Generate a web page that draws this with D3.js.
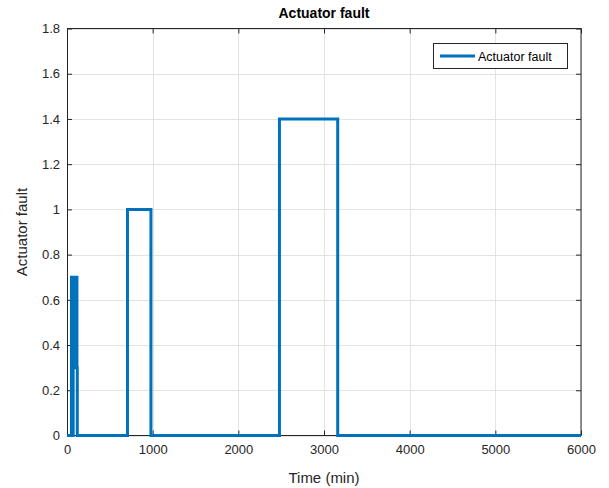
<!DOCTYPE html>
<html><head><meta charset="utf-8">
<script src="https://cdn.jsdelivr.net/npm/d3@7/dist/d3.min.js"></script>
<style>body{margin:0;background:#fff;} text{font-family:"Liberation Sans",Arial,Helvetica,sans-serif;}</style>
</head><body>
<svg id="c" width="609" height="488"></svg>
<script>
const times  = [0, 52, 52, 60, 60, 72, 72, 90, 90, 96, 96, 104, 104, 110, 110, 116, 116, 120, 120, 706, 706, 980, 980, 2480, 2480, 3160, 3160, 6000];
const values = [0, 0, 0.7, 0.7, 0, 0, 0.7, 0.7, 0.3, 0.3, 0.7, 0.7, 0.3, 0.3, 0.7, 0.7, 0.3, 0.3, 0, 0, 1.0, 1.0, 0, 0, 1.4, 1.4, 0, 0];
const xTicks = [0, 1000, 2000, 3000, 4000, 5000, 6000];
const yTicks = [0, 0.2, 0.4, 0.6, 0.8, 1, 1.2, 1.4, 1.6, 1.8];
const titleText = "Actuator fault";
const xLabel = "Time (min)";
const yLabel = "Actuator fault";
const legendLabel = "Actuator fault";

const L = 67, R = 581, T = 28.5, B = 435.5;
const svg = d3.select("#c");
const x = d3.scaleLinear().domain([0, 6000]).range([L, R]);
const y = d3.scaleLinear().domain([0, 1.8]).range([B, T]);

// grid
const g = svg.append("g");
g.selectAll(".gx").data(xTicks).enter().append("line")
  .attr("x1", d => Math.round(x(d)) + 0.5).attr("x2", d => Math.round(x(d)) + 0.5)
  .attr("y1", T).attr("y2", B).attr("stroke", "#e3e3e3").attr("stroke-width", 1);
g.selectAll(".gy").data(yTicks).enter().append("line")
  .attr("y1", d => Math.round(y(d)) + 0.5).attr("y2", d => Math.round(y(d)) + 0.5)
  .attr("x1", L).attr("x2", R).attr("stroke", "#e3e3e3").attr("stroke-width", 1);

// axes
const xAxis = d3.axisBottom(x).tickValues(xTicks).tickSize(-5).tickPadding(9).tickFormat(d3.format("d"));
const yAxis = d3.axisLeft(y).tickValues(yTicks).tickSize(-5).tickPadding(7).tickFormat(d => d === 0 || d === 1 ? String(d) : d.toFixed(1));
const xa = svg.append("g").attr("transform", `translate(0,${B})`).call(xAxis);
const ya = svg.append("g").attr("transform", `translate(${L},0)`).call(yAxis);
[xa, ya].forEach(a => {
  a.select(".domain").remove();
  a.selectAll("line").attr("stroke", "#262626");
  a.selectAll("text").attr("fill", "#262626").attr("font-size", "13px");
});
svg.append("g").attr("transform", `translate(0,${T})`).call(d3.axisTop(x).tickValues(xTicks).tickSize(-5).tickFormat(""))
  .call(a => { a.select(".domain").remove(); a.selectAll("line").attr("stroke", "#262626"); });
svg.append("g").attr("transform", `translate(${R},0)`).call(d3.axisRight(y).tickValues(yTicks).tickSize(-5).tickFormat(""))
  .call(a => { a.select(".domain").remove(); a.selectAll("line").attr("stroke", "#262626"); });

// box
svg.append("rect").attr("x", L + 0.5).attr("y", T).attr("width", R - L - 0.5).attr("height", B - T)
  .attr("fill", "none").attr("stroke", "#262626").attr("stroke-width", 1);

// data line on top
const pts = times.map((t, i) => [t, values[i]]);
svg.append("path").datum(pts)
  .attr("d", d3.line().x(d => x(d[0])).y(d => y(d[1])))
  .attr("fill", "none").attr("stroke", "#0072BD").attr("stroke-width", 3).attr("stroke-linejoin", "miter");

// title & labels
svg.append("text").attr("x", (L + R) / 2).attr("y", 18).attr("text-anchor", "middle")
  .attr("font-size", "14px").attr("font-weight", "bold").attr("fill", "#000").text(titleText);
svg.append("text").attr("x", (L + R) / 2).attr("y", 483).attr("text-anchor", "middle")
  .attr("font-size", "15px").attr("fill", "#262626").text(xLabel);
svg.append("text").attr("transform", `translate(27,${(T + B) / 2}) rotate(-90)`).attr("text-anchor", "middle")
  .attr("font-size", "15px").attr("fill", "#262626").text(yLabel);

// legend
const lg = svg.append("g");
lg.append("rect").attr("x", 433.5).attr("y", 43.5).attr("width", 134).attr("height", 25)
  .attr("fill", "#fff").attr("stroke", "#262626").attr("stroke-width", 1);
lg.append("line").attr("x1", 440).attr("x2", 475).attr("y1", 56).attr("y2", 56)
  .attr("stroke", "#0072BD").attr("stroke-width", 3);
lg.append("text").attr("x", 478).attr("y", 60.5).attr("font-size", "12.5px").attr("fill", "#000").text(legendLabel);
</script>
</body></html>
